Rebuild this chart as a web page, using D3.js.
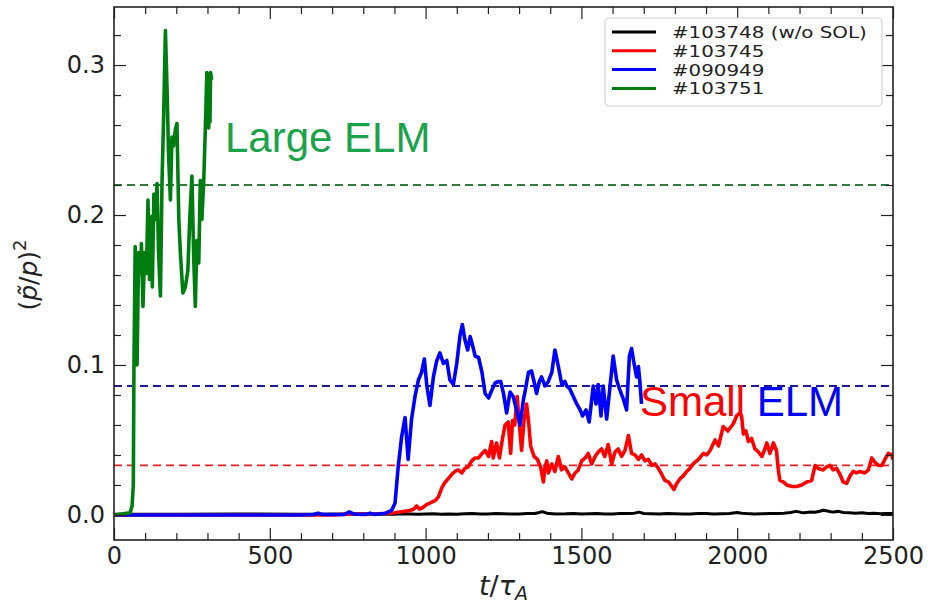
<!DOCTYPE html>
<html>
<head>
<meta charset="utf-8">
<script src="https://cdn.jsdelivr.net/npm/d3@7"></script>
<style>
  html, body { margin: 0; padding: 0; background: #fff; }
  svg { display: block; }
  .tick text { font-family: "DejaVu Sans", sans-serif; }
</style>
</head>
<body>
<svg id="chart" width="928" height="606"></svg>
<script>
// ---- data: perturbation amplitude (p~/p)^2 versus t/tau_A for four shots ----
const shot103748 = [ // w/o SOL
  [0,0.0005],[200,0.0005],[400,0.0006],[600,0.0005],[800,0.0006],[900,0.0005],[925,0.0008],[950,0.0006],
  [975,0.0004],[1000,0.0006],[1025,0.0008],[1050,0.0005],[1075,0.0007],[1100,0.0005],[1125,0.0008],
  [1150,0.0009],[1175,0.0006],[1200,0.0006],[1225,0.0009],[1250,0.0008],[1275,0.0006],[1300,0.0007],
  [1325,0.0009],[1350,0.0010],[1365,0.0016],[1375,0.0022],[1385,0.0015],[1395,0.0009],[1420,0.0007],
  [1450,0.0008],[1475,0.0010],[1500,0.0006],[1525,0.0008],[1550,0.0009],[1575,0.0006],[1600,0.0007],
  [1625,0.0009],[1650,0.0010],[1670,0.0012],[1685,0.0019],[1700,0.0010],[1725,0.0008],[1750,0.0006],
  [1775,0.0009],[1800,0.0008],[1825,0.0006],[1850,0.0007],[1875,0.0009],[1900,0.0010],[1925,0.0007],
  [1950,0.0008],[1975,0.0010],[2000,0.0016],[2015,0.0011],[2030,0.0009],[2055,0.0007],[2080,0.0008],
  [2105,0.0010],[2130,0.0010],[2150,0.0012],[2170,0.0016],[2190,0.0024],[2205,0.0017],[2215,0.0014],
  [2235,0.0019],[2250,0.0018],[2265,0.0025],[2275,0.0031],[2290,0.0026],[2300,0.0022],[2310,0.0020],
  [2325,0.0024],[2340,0.0016],[2360,0.0014],[2380,0.0012],[2400,0.0015],[2420,0.0010],[2440,0.0011],
  [2460,0.0008],[2480,0.0010],[2500,0.0009]
];

const shot103745 = [
  [0,0],[700,0],[760,0.0006],[850,0.0008],[900,0.0015],[918,0.002],[935,0.0025],[950,0.003],[962,0.004],
  [971,0.006],[980,0.004],[992,0.005],[1004,0.007],[1015,0.008],[1025,0.009],[1033,0.010],[1041,0.012],
  [1052,0.018],[1060,0.021],[1068,0.023],[1076,0.025],[1084,0.027],[1094,0.029],[1105,0.030],[1116,0.028],
  [1126,0.031],[1137,0.032],[1148,0.036],[1159,0.038],[1170,0.038],[1181,0.041],[1191,0.043],[1202,0.039],
  [1212,0.049],[1217,0.038],[1228,0.048],[1237,0.038],[1246,0.050],[1255,0.060],[1265,0.062],[1273,0.041],
  [1279,0.063],[1286,0.060],[1294,0.079],[1300,0.063],[1308,0.043],[1316,0.063],[1324,0.074],[1331,0.061],
  [1337,0.046],[1348,0.039],[1359,0.037],[1369,0.032],[1378,0.022],[1383,0.032],[1389,0.036],[1394,0.028],
  [1405,0.034],[1415,0.029],[1426,0.039],[1436,0.030],[1447,0.032],[1458,0.028],[1469,0.024],[1480,0.028],
  [1490,0.030],[1501,0.036],[1512,0.038],[1522,0.041],[1533,0.034],[1544,0.039],[1554,0.042],[1565,0.044],
  [1575,0.039],[1586,0.047],[1597,0.034],[1608,0.042],[1618,0.044],[1629,0.039],[1640,0.043],[1651,0.053],
  [1661,0.041],[1672,0.040],[1683,0.037],[1693,0.040],[1704,0.036],[1715,0.037],[1726,0.033],[1736,0.034],
  [1747,0.031],[1758,0.027],[1768,0.023],[1779,0.022],[1790,0.019],[1797,0.017],[1806,0.021],[1816,0.024],
  [1827,0.026],[1838,0.029],[1848,0.031],[1859,0.034],[1870,0.036],[1880,0.038],[1891,0.041],[1902,0.040],
  [1913,0.043],[1929,0.050],[1940,0.046],[1955,0.059],[1970,0.056],[1988,0.061],[1998,0.066],[2009,0.068],
  [2014,0.066],[2020,0.054],[2028,0.056],[2036,0.049],[2046,0.051],[2057,0.044],[2068,0.042],[2079,0.039],
  [2087,0.043],[2095,0.048],[2105,0.041],[2116,0.048],[2126,0.043],[2132,0.030],[2137,0.023],[2148,0.022],
  [2159,0.020],[2175,0.019],[2191,0.019],[2207,0.020],[2223,0.022],[2239,0.023],[2250,0.033],[2260,0.031],
  [2276,0.030],[2287,0.032],[2298,0.033],[2308,0.030],[2319,0.031],[2330,0.027],[2340,0.022],[2351,0.021],
  [2362,0.026],[2372,0.029],[2383,0.028],[2394,0.029],[2410,0.028],[2421,0.030],[2432,0.038],[2442,0.035],
  [2453,0.033],[2464,0.033],[2474,0.037],[2485,0.041],[2496,0.040],[2500,0.037]
];

const shot090949 = [
  [0,0],[600,0],[640,0.0003],[655,0.0012],[670,0.0003],[740,0.0004],[755,0.002],[770,0.0005],[810,0.0004],
  [822,0.0012],[835,0.0004],[870,0.001],[891,0.003],[902,0.008],[912,0.032],[923,0.052],[934,0.065],
  [944,0.037],[955,0.064],[966,0.079],[977,0.090],[987,0.095],[996,0.104],[1004,0.086],[1014,0.073],
  [1025,0.092],[1036,0.103],[1046,0.108],[1057,0.101],[1068,0.103],[1078,0.090],[1089,0.087],[1100,0.101],
  [1110,0.119],[1118,0.127],[1126,0.117],[1135,0.110],[1143,0.119],[1152,0.112],[1159,0.106],[1170,0.105],
  [1181,0.095],[1191,0.081],[1202,0.078],[1212,0.083],[1223,0.088],[1234,0.089],[1241,0.089],[1250,0.081],
  [1260,0.068],[1271,0.082],[1281,0.079],[1292,0.070],[1303,0.060],[1314,0.077],[1319,0.082],[1330,0.095],
  [1340,0.096],[1348,0.089],[1356,0.081],[1365,0.089],[1372,0.092],[1383,0.086],[1394,0.089],[1405,0.095],
  [1415,0.110],[1426,0.099],[1437,0.087],[1447,0.089],[1453,0.086],[1463,0.084],[1474,0.079],[1485,0.074],
  [1496,0.070],[1504,0.066],[1515,0.070],[1525,0.062],[1538,0.086],[1547,0.074],[1554,0.087],[1563,0.066],
  [1570,0.086],[1581,0.064],[1592,0.086],[1602,0.106],[1613,0.090],[1624,0.083],[1635,0.077],[1645,0.070],
  [1654,0.106],[1661,0.111],[1669,0.101],[1677,0.092],[1683,0.099],[1688,0.088],[1693,0.074]
];

const shot103751 = [
  [0,0],[52,0.0015],[58,0.006],[62,0.02],[64,0.099],[68,0.179],[74,0.100],[79,0.175],[85,0.161],[88,0.181],
  [93,0.139],[98,0.175],[104,0.161],[109,0.210],[114,0.157],[120,0.199],[123,0.152],[128,0.214],[134,0.197],
  [138,0.221],[143,0.175],[149,0.146],[154,0.221],[159,0.263],[165,0.323],[170,0.286],[175,0.241],[181,0.210],
  [186,0.252],[191,0.246],[197,0.257],[202,0.261],[208,0.197],[213,0.175],[221,0.148],[229,0.152],[237,0.163],
  [243,0.197],[250,0.226],[256,0.170],[261,0.139],[266,0.183],[272,0.168],[277,0.223],[282,0.197],[288,0.223],
  [293,0.257],[298,0.295],[300,0.260],[302,0.294],[304,0.258],[306,0.294],[308,0.262],[310,0.295],[313,0.290]
];

// horizontal reference levels
const levelValues = [0.22, 0.086, 0.033];
const levelColors = ["#2f7a3c", "#1a1a9c", "#ee1c24"];

const seriesNames  = ["#103748 (w/o SOL)", "#103745", "#090949", "#103751"];
const seriesColors = ["#000000", "#ff0000", "#0000ff", "#007d10"];
const seriesData   = [shot103748, shot103745, shot090949, shot103751];

const xMajorTicks = [0, 500, 1000, 1500, 2000, 2500];
const yMajorTicks = [0.0, 0.1, 0.2, 0.3];

// ---- layout ----
const svg = d3.select("#chart");
const L = 114, R = 893, T = 7, B = 540;

const x = d3.scaleLinear().domain([0, 2500]).range([L, R]);
const y = d3.scaleLinear().domain([-0.0167, 0.3387]).range([B, T]);

const xMinor = d3.range(100, 2500, 100).filter(v => v % 500 !== 0);
const yMinor = d3.range(1, 17).map(i => +(i * 0.02).toFixed(2)).filter(v => Math.round(v * 100) % 10 !== 0);

const plot = svg.append("g");
plot.append("defs").append("clipPath").attr("id", "clip")
  .append("rect").attr("x", L).attr("y", T).attr("width", R - L).attr("height", B - T);

// reference dashed lines
levelValues.forEach((v, i) => {
  plot.append("line")
    .attr("x1", L).attr("x2", R).attr("y1", y(v)).attr("y2", y(v))
    .attr("stroke", levelColors[i]).attr("stroke-width", 1.8)
    .attr("stroke-dasharray", "8,5");
});

// series
const line = d3.line().x(d => x(d[0])).y(d => y(d[1]));
const curves = plot.append("g").attr("clip-path", "url(#clip)");
seriesData.forEach((data, i) => {
  curves.append("path")
    .datum(data)
    .attr("d", line)
    .attr("fill", "none")
    .attr("stroke", seriesColors[i])
    .attr("stroke-width", i === 0 ? 3 : 3.6)
    .attr("stroke-linejoin", "round");
});

// ---- axes (inward ticks on all four sides) ----
const axisColor = "#222";
function styleAxis(g) {
  g.select(".domain").remove();
  g.selectAll(".tick line").attr("stroke", axisColor).attr("stroke-width", 1.2);
  g.selectAll(".tick text").attr("fill", "#222").attr("font-size", 24);
}

svg.append("g").attr("transform", `translate(0,${B})`)
  .call(d3.axisBottom(x).tickValues(xMajorTicks).tickSize(-12).tickPadding(7).tickFormat(d3.format("d")))
  .call(styleAxis);
svg.append("g").attr("transform", `translate(0,${B})`)
  .call(d3.axisBottom(x).tickValues(xMinor).tickSize(-7).tickFormat(""))
  .call(styleAxis);
svg.append("g").attr("transform", `translate(0,${T})`)
  .call(d3.axisTop(x).tickValues(xMajorTicks).tickSize(-12).tickFormat(""))
  .call(styleAxis);
svg.append("g").attr("transform", `translate(0,${T})`)
  .call(d3.axisTop(x).tickValues(xMinor).tickSize(-7).tickFormat(""))
  .call(styleAxis);

svg.append("g").attr("transform", `translate(${L},0)`)
  .call(d3.axisLeft(y).tickValues(yMajorTicks).tickSize(-12).tickPadding(9).tickFormat(d3.format(".1f")))
  .call(styleAxis);
svg.append("g").attr("transform", `translate(${L},0)`)
  .call(d3.axisLeft(y).tickValues(yMinor).tickSize(-7).tickFormat(""))
  .call(styleAxis);
svg.append("g").attr("transform", `translate(${R},0)`)
  .call(d3.axisRight(y).tickValues(yMajorTicks).tickSize(-12).tickFormat(""))
  .call(styleAxis);
svg.append("g").attr("transform", `translate(${R},0)`)
  .call(d3.axisRight(y).tickValues(yMinor).tickSize(-7).tickFormat(""))
  .call(styleAxis);

// frame
svg.append("rect").attr("x", L).attr("y", T).attr("width", R - L).attr("height", B - T)
  .attr("fill", "none").attr("stroke", axisColor).attr("stroke-width", 1.6);

// ---- axis titles ----
const xTitle = svg.append("text")
  .attr("x", (L + R) / 2).attr("y", 595)
  .attr("text-anchor", "middle")
  .attr("font-family", "DejaVu Sans, sans-serif").attr("font-size", 27).attr("fill", "#222");
xTitle.append("tspan").attr("font-style", "italic").text("t");
xTitle.append("tspan").text("/");
xTitle.append("tspan").attr("font-style", "italic").text("τ");
xTitle.append("tspan").attr("font-style", "italic").attr("font-size", 19).attr("dy", 5).text("A");

const yTitle = svg.append("text")
  .attr("transform", "translate(37,275) rotate(-90)")
  .attr("text-anchor", "middle")
  .attr("font-family", "DejaVu Sans, sans-serif").attr("font-size", 25).attr("fill", "#222");
yTitle.append("tspan").text("(");
yTitle.append("tspan").attr("font-style", "italic").text("p\u0303");
yTitle.append("tspan").text("/");
yTitle.append("tspan").attr("font-style", "italic").text("p");
yTitle.append("tspan").text(")");
yTitle.append("tspan").attr("font-size", 18).attr("dy", -11).text("2");

// ---- annotations ----
svg.append("text").attr("x", 225).attr("y", 152)
  .attr("font-family", "Liberation Sans, Arial, sans-serif").attr("font-size", 42)
  .attr("fill", "#1aa34a").text("Large ELM");
const small = svg.append("text").attr("x", 640).attr("y", 416)
  .attr("font-family", "Liberation Sans, Arial, sans-serif").attr("font-size", 42);
small.append("tspan").attr("fill", "#ff0000").text("Small ");
small.append("tspan").attr("fill", "#0000ff").text("ELM");

// ---- legend ----
const lg = svg.append("g");
lg.append("rect").attr("x", 605).attr("y", 18).attr("width", 277).attr("height", 88)
  .attr("rx", 4).attr("fill", "#fff").attr("fill-opacity", 0.85)
  .attr("stroke", "#d0d0d0").attr("stroke-width", 1.2);
seriesNames.forEach((name, i) => {
  const yy = 32 + i * 18.8;
  lg.append("line").attr("x1", 612).attr("x2", 656).attr("y1", yy).attr("y2", yy)
    .attr("stroke", seriesColors[i]).attr("stroke-width", 3);
  const t = lg.append("text").attr("x", 672).attr("y", yy + 6)
    .attr("font-family", "DejaVu Sans, sans-serif").attr("font-size", 16)
    .attr("fill", "#222").text(name);
  // glyphs are drawn slightly wide
  const w = t.node().getComputedTextLength();
  t.attr("textLength", w * 1.24).attr("lengthAdjust", "spacingAndGlyphs");
});
</script>
</body>
</html>
